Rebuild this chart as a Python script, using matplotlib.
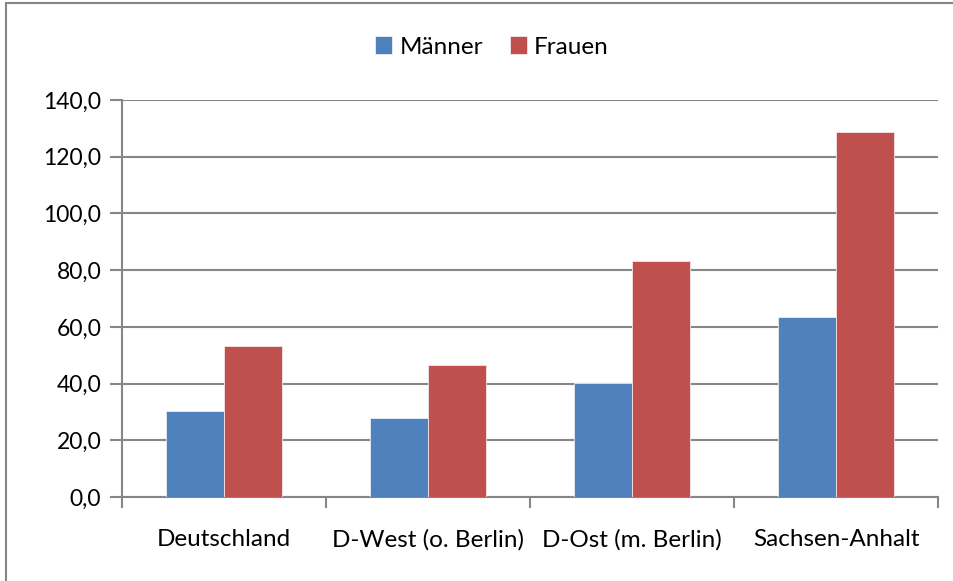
import numpy as np
import matplotlib
matplotlib.use("Agg")
from matplotlib import pyplot as plt
from matplotlib.patches import Rectangle

plt.rcParams['font.family'] = ['Lato', 'DejaVu Sans']

# Values per region
regionen = ["Deutschland", "D-West (o. Berlin)", "D-Ost (m. Berlin)", "Sachsen-Anhalt"]
maenner = [30.3, 27.7, 40.1, 63.5]
frauen = [53.2, 46.5, 83.2, 128.7]
y_ticks = [0, 20, 40, 60, 80, 100, 120, 140]

blau = "#4F81BD"
rot = "#C0504D"
grau = "#868686"

fig = plt.figure(figsize=(9.54, 5.81), dpi=100)

# Chart frame (only left and top edges are visible)
fig.patches.append(Rectangle((6 / 954, -0.1), 1.2, (581 - 3) / 581 + 0.1,
                             transform=fig.transFigure, fill=False,
                             edgecolor=grau, linewidth=1.5))

ax = fig.add_axes([122 / 954, (581 - 497) / 581, 816 / 954, 397 / 581])

x = np.arange(len(regionen))
w = 1 / 3.5
ax.bar(x - w / 2, maenner, w, color=blau, edgecolor="#E8EEF6", linewidth=0.6,
       label="Männer", zorder=3)
ax.bar(x + w / 2, frauen, w, color=rot, edgecolor="#F6E6E6", linewidth=0.6,
       label="Frauen", zorder=3)

ax.set_xlim(-0.5, len(regionen) - 0.5)
ax.set_ylim(0, 140)

ax.set_yticks(y_ticks)
ax.set_yticklabels([f"{v:.1f}".replace(".", ",") for v in y_ticks])
ax.yaxis.grid(True, color=grau, linewidth=1.5, zorder=0)

# category labels centred, tick marks at the group boundaries
ax.set_xticks(x)
ax.set_xticklabels(regionen)
ax.set_xticks(np.arange(-0.5, len(regionen)), minor=True)
ax.tick_params(axis="x", which="major", length=0, pad=23, labelsize=17.5)
ax.tick_params(axis="x", which="minor", length=8, width=1.5, color=grau, direction="out")
ax.tick_params(axis="y", length=9, width=1.5, color=grau, pad=6, labelsize=16.5)

for side in ["top", "right"]:
    ax.spines[side].set_visible(False)
for side in ["left", "bottom"]:
    ax.spines[side].set_color(grau)
    ax.spines[side].set_linewidth(1.5)

leg = fig.legend(loc="center", bbox_to_anchor=(492 / 954, 1 - 47 / 581), ncol=2,
                 frameon=False, fontsize=17.5, handlelength=0.7, handleheight=0.7,
                 handletextpad=0.3, columnspacing=1.1)

plt.savefig("out.png", dpi=100)
